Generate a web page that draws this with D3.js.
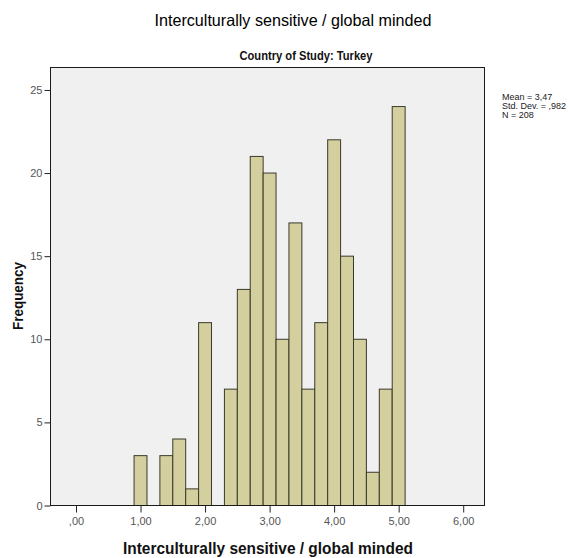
<!DOCTYPE html>
<html>
<head>
<meta charset="utf-8">
<script src="https://cdn.jsdelivr.net/npm/d3@7/dist/d3.min.js"></script>
<style>
  html, body { margin: 0; padding: 0; background: #ffffff; }
  svg { display: block; }
  text { font-family: "Liberation Sans", Arial, sans-serif; }
</style>
</head>
<body>
<script>
// ---- data ----
const chartTitle = "Interculturally sensitive / global minded";
const subTitle = "Country of Study: Turkey";
const xTitle = "Interculturally sensitive / global minded";
const yTitle = "Frequency";
const binMids = [1.0, 1.2, 1.4, 1.6, 1.8, 2.0, 2.2, 2.4, 2.6, 2.8, 3.0, 3.2, 3.4, 3.6, 3.8, 4.0, 4.2, 4.4, 4.6, 4.8, 5.0];
const counts  = [3,   0,   3,   4,   1,   11,  0,   7,   13,  21,  20,  10,  17,  7,   11,  22,  15,  10,  2,   7,   24];
const binWidth = 0.2;
const xTickValues = [0, 1, 2, 3, 4, 5, 6];
const xTickLabels = [",00", "1,00", "2,00", "3,00", "4,00", "5,00", "6,00"];
const yTickValues = [0, 5, 10, 15, 20, 25];
const statsLines = ["Mean = 3,47", "Std. Dev. = ,982", "N = 208"];

// ---- layout ----
const W = 572, H = 558;
const plot = { left: 50, right: 484, top: 67, bottom: 505 };

const svg = d3.select("body").append("svg").attr("width", W).attr("height", H);

const x = d3.scaleLinear().domain([-0.395, 6.33]).range([plot.left, plot.right]);
const y = d3.scaleLinear().domain([0, 26.35]).range([plot.bottom, plot.top]);

// plot background
svg.append("rect")
  .attr("x", plot.left).attr("y", plot.top)
  .attr("width", plot.right - plot.left).attr("height", plot.bottom - plot.top)
  .attr("fill", "#f0f0f0").attr("stroke", "none");

// bars
const data = binMids.map((m, i) => ({ mid: m, n: counts[i] })).filter(d => d.n > 0);
svg.append("g").selectAll("rect").data(data).join("rect")
  .attr("x", d => x(d.mid - binWidth / 2) + 0.5)
  .attr("y", d => y(d.n) + 0.5)
  .attr("width", d => x(d.mid + binWidth / 2) - x(d.mid - binWidth / 2))
  .attr("height", d => y(0) - y(d.n))
  .attr("fill", "#d4cf9f")
  .attr("stroke", "#3a3a2a")
  .attr("stroke-width", 1);

// frame
svg.append("rect")
  .attr("x", plot.left + 0.5).attr("y", plot.top + 0.5)
  .attr("width", plot.right - plot.left).attr("height", plot.bottom - plot.top)
  .attr("fill", "none").attr("stroke", "#1a1a1a").attr("stroke-width", 1);

// x axis
const xAxis = d3.axisBottom(x)
  .tickValues(xTickValues)
  .tickFormat((d, i) => xTickLabels[i])
  .tickSize(7).tickSizeOuter(0).tickPadding(5);
const gx = svg.append("g").attr("transform", `translate(0.5,${plot.bottom + 0.5})`).call(xAxis);
gx.select(".domain").remove();
gx.selectAll(".tick line").attr("stroke", "#222");
gx.selectAll(".tick text")
  .attr("fill", "#555")
  .style("font-size", "11px")
  .style("font-family", "'Liberation Sans', Arial, sans-serif");

// y axis
const yAxis = d3.axisLeft(y)
  .tickValues(yTickValues)
  .tickFormat(d3.format("d"))
  .tickSize(6).tickSizeOuter(0).tickPadding(2);
const gy = svg.append("g").attr("transform", `translate(${plot.left + 0.5},0.5)`).call(yAxis);
gy.select(".domain").remove();
gy.selectAll(".tick line").attr("stroke", "#222");
gy.selectAll(".tick text")
  .attr("fill", "#555")
  .style("font-size", "11px")
  .style("font-family", "'Liberation Sans', Arial, sans-serif");

// titles
svg.append("text")
  .attr("x", 293).attr("y", 26)
  .attr("text-anchor", "middle")
  .attr("fill", "#000")
  .attr("textLength", 277).attr("lengthAdjust", "spacingAndGlyphs")
  .style("font-size", "16.5px")
  .text(chartTitle);

svg.append("text")
  .attr("x", 306).attr("y", 60)
  .attr("text-anchor", "middle")
  .attr("fill", "#111")
  .attr("font-weight", "bold")
  .attr("textLength", 133).attr("lengthAdjust", "spacingAndGlyphs")
  .style("font-size", "13.5px")
  .text(subTitle);

svg.append("text")
  .attr("x", 268).attr("y", 554)
  .attr("text-anchor", "middle")
  .attr("fill", "#111")
  .attr("font-weight", "bold")
  .attr("textLength", 290).attr("lengthAdjust", "spacingAndGlyphs")
  .style("font-size", "16px")
  .text(xTitle);

svg.append("text")
  .attr("transform", `translate(23,296) rotate(-90)`)
  .attr("text-anchor", "middle")
  .attr("fill", "#111")
  .attr("font-weight", "bold")
  .attr("textLength", 68).attr("lengthAdjust", "spacingAndGlyphs")
  .style("font-size", "15px")
  .text(yTitle);

// stats box text
svg.append("g").selectAll("text").data(statsLines).join("text")
  .attr("x", 502)
  .attr("y", (d, i) => 100 + i * 9)
  .attr("fill", "#222")
  .style("font-size", "9px")
  .text(d => d);
</script>
</body>
</html>
